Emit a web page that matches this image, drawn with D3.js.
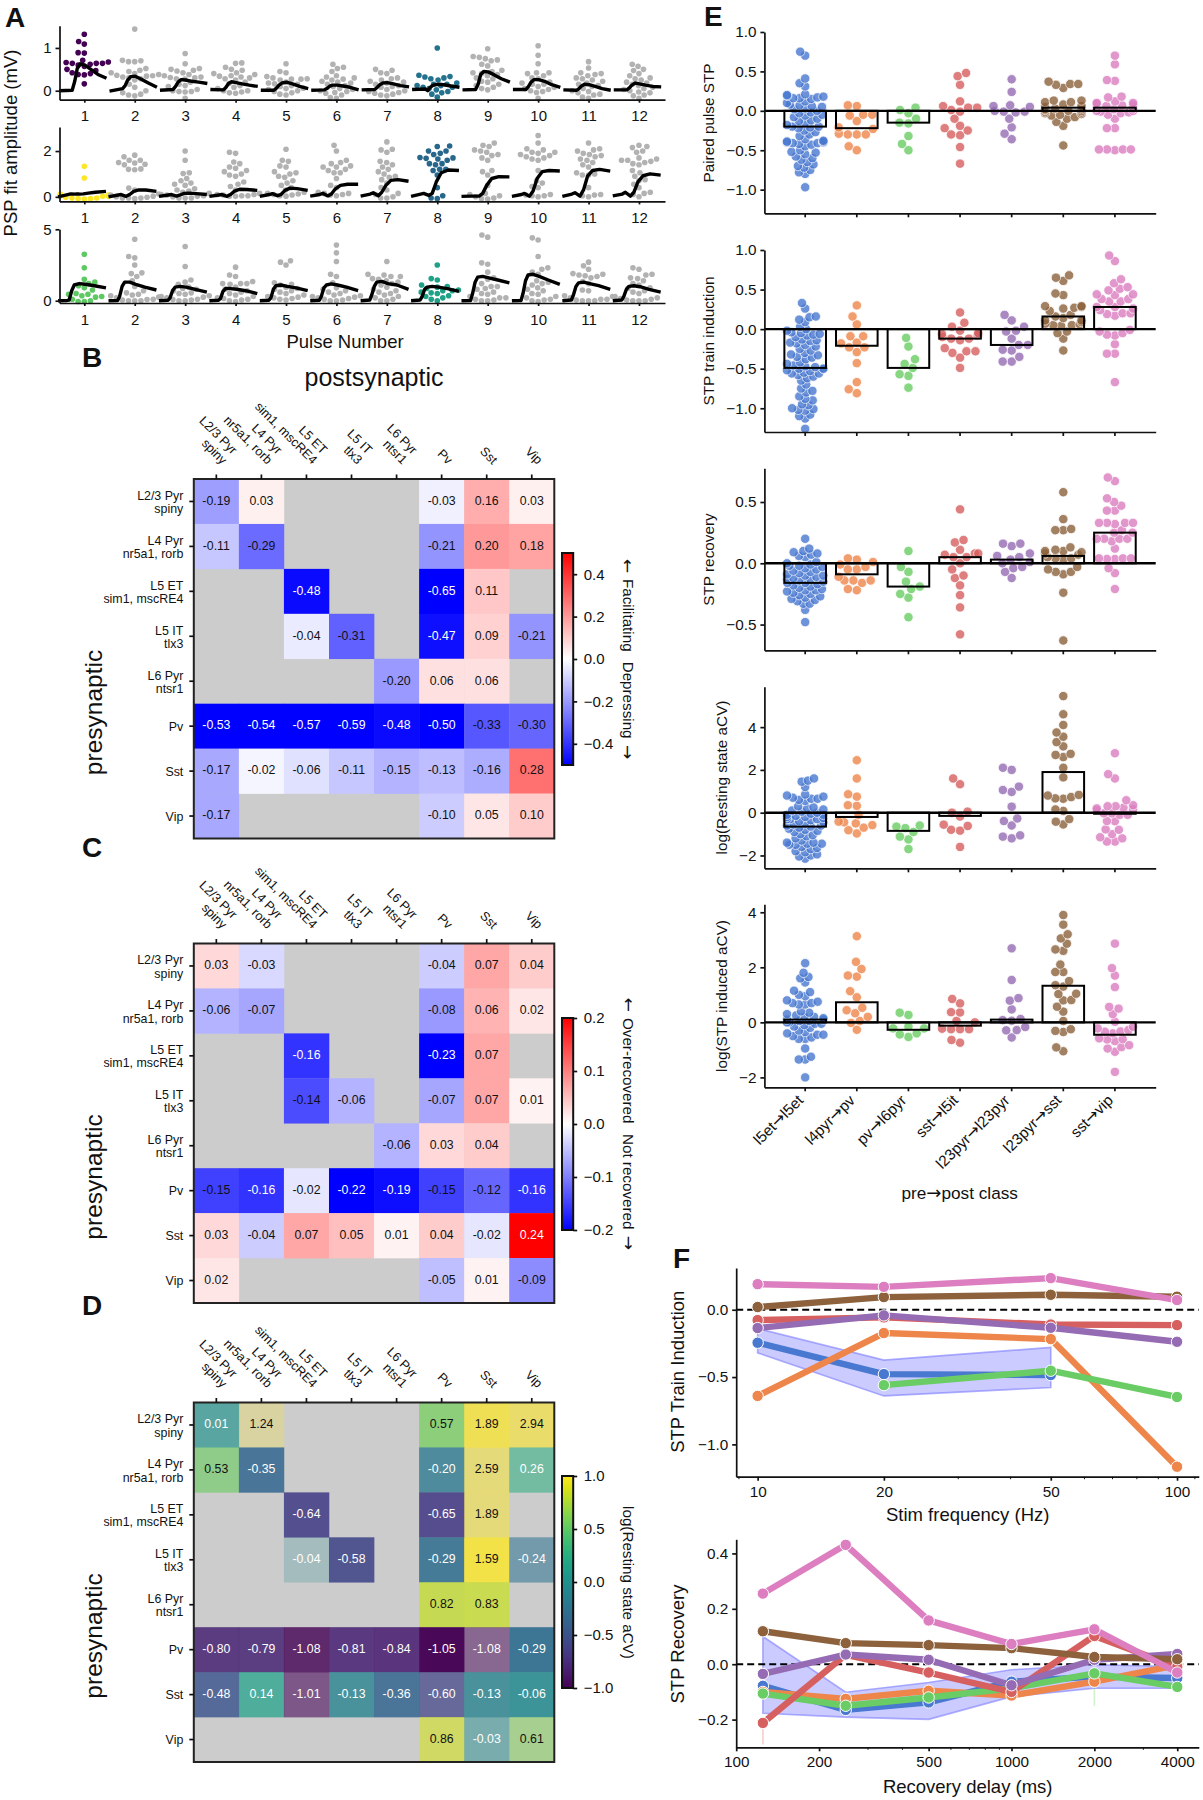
<!DOCTYPE html>
<html><head><meta charset="utf-8"><title>STP figure</title>
<script src="https://cdn.jsdelivr.net/npm/d3@7/dist/d3.min.js"></script>
<style>
html,body{margin:0;padding:0;background:#fff}
svg{display:block}
text{font-family:"Liberation Sans",Arial,sans-serif;fill:#111}
.axis text{font-size:15px;fill:#111}
.axis line,.axis path{stroke:#111;stroke-width:1.7px}
.arrow{font-family:"DejaVu Sans",sans-serif}
</style></head><body><svg id="fig" width="1203" height="1800"></svg>
<script>
// ---------- Panel A ----------
const pulses=[1,2,3,4,5,6,7,8,9,10,11,12];
const traceOffsetsRow1=[-.5,-.24,-.19,-.14,-.08,.01,.13,.27,.44];
const traceOffsetsRow2=[-.52,-.33,-.27,-.17,-.1,-.02,.08,.22,.43];
const traceOffsetsRow3=[-.52,-.34,-.3,-.25,-.2,-.1,.02,.2,.43];
const rowATicks=[[0,1],[0,2],[0,5]];
const rowAColors=[["#440154","#24728e"],["#fde725","#28678c"],["#5ec962","#1fa187"]];
const traceRow1=[[0,.01,.22,.52,.63,.6,.5,.38,.29],[-.01,.05,.12,.25,.33,.34,.27,.18,.08],[.01,.03,.1,.2,.26,.25,.22,.2,.17],[.03,.02,.08,.17,.21,.19,.16,.13,.1],[.01,.01,.06,.13,.18,.2,.16,.1,.05],[.01,.02,.05,.1,.13,.13,.11,.08,.02],[.02,.03,.08,.14,.18,.19,.16,.12,.09],[.03,.04,0,.08,.13,.15,.14,.11,.08],[.02,.03,.15,.38,.45,.44,.37,.28,.2],[.03,.03,.1,.2,.26,.26,.22,.14,.08],[.02,.01,.05,.11,.15,.14,.1,.05,.01],[.02,.02,.07,.13,.18,.16,.13,.1,.09]];
const traceRow2=[[0,.1,.13,.12,.12,.13,.16,.2,.24],[0,.08,.1,.02,.1,.24,.3,.3,.24],[.02,.08,.1,.03,.08,.15,.16,.14,.1],[.02,.08,.1,.02,.1,.25,.33,.32,.28],[.02,.1,.14,.05,.1,.28,.38,.36,.28],[.03,.1,.15,.04,.12,.35,.5,.55,.55],[.03,.12,.18,.05,.2,.5,.72,.75,.68],[.02,.12,.15,.06,.15,.65,1.05,1.17,1.15],[.02,.03,.03,.03,.15,.5,.8,.88,.87],[.02,.1,.15,.03,.25,.8,1.1,1.15,1.13],[.02,.12,.18,.03,.3,.9,1.15,1.2,1.12],[.04,.12,.2,.03,.2,.65,.92,1,.95]];
const traceRow3=[[0,.02,.05,.7,1.1,1.2,1.15,1.05,.9],[0,.02,.3,1,1.3,1.3,1.15,.95,.75],[0,.03,.2,.7,.95,1,.95,.8,.6],[0,.03,.15,.65,.85,.85,.8,.7,.5],[0,.03,.2,.8,1.05,1.1,1,.9,.7],[0,.03,.3,.9,1.1,1.18,1.1,.95,.7],[0,.05,.4,1,1.3,1.35,1.2,1.1,.8],[0,.05,.3,.8,.95,1,.95,.85,.65],[0,.02,.5,1.3,1.65,1.7,1.6,1.45,1.25],[0,.02,.5,1.4,1.8,1.85,1.7,1.45,1.15],[0,.05,.4,1,1.25,1.3,1.2,1.05,.8],[0,.05,.3,.8,1,1.05,.98,.8,.6]];
const dotsRow1=[[1.32,1.15,1.09,.89,.88,.71,.67,.66,.64,.64,.64,.62,.6,.57,.5,.47,.42,.4,.38,.37,.16],[1.44,.71,.7,.68,.68,.52,.48,.45,.42,.4,.38,.36,.35,.34,.32,.3,.28,.25,.15,.08,0,-.05,-.08,-.1,-.12],[.87,.63,.52,.5,.48,.46,.42,.38,.35,.32,.31,.3,.28,.27,.2,.15,.12,.1,.03,0,-.02,-.02,-.03,-.18],[.65,.64,.55,.5,.48,.42,.4,.38,.35,.34,.32,.3,.28,.25,.2,.17,.12,.08,.05,0,0,-.03,-.05,-.06],[.63,.45,.42,.33,.3,.28,.27,.27,.25,.2,.18,.16,.15,.12,.1,.06,.05,.03,0,-.02,-.05,-.08,-.1],[.62,.55,.52,.45,.35,.32,.3,.27,.25,.22,.2,.18,.15,.12,.1,.05,.03,0,-.02,-.04,-.06,-.1,-.16,-.18],[.5,.48,.42,.4,.3,.28,.25,.22,.2,.18,.15,.12,.1,.08,.03,0,-.02,-.04,-.06,-.08,-.1,-.12],[1,.36,.33,.32,.3,.28,.25,.18,.15,.15,.12,.12,.08,.08,.05,.02,-.02,-.05,-.08,-.15],[.98,.8,.78,.75,.72,.7,.62,.58,.48,.45,.42,.4,.38,.35,.3,.28,.22,.2,.15,.12,.08,.05,.02],[1.05,.83,.63,.42,.42,.4,.35,.3,.28,.2,.18,.15,.15,.1,.08,.05,.03,0,-.02,-.04,-.18],[.68,.53,.42,.4,.38,.35,.3,.28,.25,.22,.18,.15,.12,.1,.05,0,-.02,-.05,-.08,-.1,-.15,-.18],[.62,.57,.5,.47,.4,.35,.3,.28,.25,.2,.18,.15,.12,.08,.05,.03,0,-.03,-.05,-.1,-.12,-.18]];
const dotsRow2=[[1.33,.82,.12,.08,.05,.02,.02,-.02,-.05,-.05,-.08,-.08,-.1],[1.82,1.75,1.6,1.6,1.5,1.48,1.42,1.4,1.22,1.2,1.18,.38,.3,.12,.08,.03,0,-.02,-.05,-.05,-.05,-.08],[2,1.6,1.05,1.02,.8,.7,.6,.55,.5,.35,.3,.25,.2,.15,.1,.08,.05,.02,0,-.05,-.05,-.05],[1.95,1.9,1.52,1.45,1.3,1.25,1.15,1.1,1,.95,.9,.65,.55,.45,.3,.15,.1,.1,.08,.05,.05,.03,.02],[2.08,1.6,1.55,1.35,1.3,1.1,1.05,1,.9,.85,.7,.6,.5,.4,.3,.2,.15,.12,.1,.08,.05,.03],[2.25,2,1.6,1.5,1.45,1.35,1.3,1.3,1.2,1.15,1.05,1.05,.8,.5,.4,.2,.15,.15,.1,.08,.05],[2.4,2.08,2.05,1.95,1.55,1.5,1.4,1.3,1.2,1.1,1,.9,.85,.75,.6,.4,.3,.15,.1,0,-.05,-.05],[2.22,2.2,2,2,1.9,1.85,1.72,1.7,1.68,1.65,1.6,1.45,1.45,1.4,1.2,1.2,1.15,.95,.4,.05,-.05,-.08],[2.35,2.25,2.2,2.05,2,1.95,1.85,1.8,1.7,1.6,1.15,1.1,.95,.5,.15,.1,.05,0,-.05,-.08,-.1],[2.68,2.35,2.1,2.05,1.95,1.95,1.9,1.85,1.8,1.75,1.7,1.65,1.6,1.15,.7,.6,.45,.4,.1,.08,.05,.05,0],[2.35,2.1,2.05,2,1.9,1.85,1.8,1.75,1.65,1.6,1.5,1.4,1.3,1.05,1,.95,.95,.4,.1,.08,.05,0],[2.25,2.2,2.15,2,1.95,1.7,1.65,1.6,1.6,1.55,1.5,1.45,1.4,1.15,1.05,.9,.75,.7,.55,.4,.2,.15,.1,0]];
const dotsRow3=[[3.25,2.3,1.5,1.3,1.2,1.05,.9,.75,.5,.45,.45,.35,.3,.25,.1,0,-.05,-.05],[4.3,3.1,3,2.5,1.95,1.9,1.7,1.4,1,.7,.55,.45,.4,.35,.25,.2,.1,.08,.05,0,0,0],[3.8,2.4,1.45,1.3,1.15,.95,.85,.8,.7,.55,.5,.45,.35,.3,.25,.2,.1,.08,.05,0,0],[2.35,1.8,1.7,1.35,1.2,1.2,1.2,1.15,.95,.8,.7,.6,.5,.4,.3,.2,.15,.1,.05,0,-.05],[2.8,2.7,2.5,1.25,1.15,1.1,.95,.85,.8,.7,.6,.5,.4,.3,.25,.2,.15,.1,.05],[3.9,3.35,2.75,1.85,1.7,1.25,.9,.8,.7,.6,.5,.4,.35,.3,.25,.2,.15,.1,.05,0,0],[2.75,1.85,1.8,1.7,1.7,1.55,1.5,1.4,1.3,1.2,1.1,.95,.8,.7,.6,.5,.4,.3,.2,.1,0,0],[2.5,1.55,1.45,1.1,1,.95,.85,.75,.7,.7,.6,.55,.5,.35,.3,.2,.1,0],[4.6,4.45,2.65,2.55,2,1.6,1.5,1.2,1,1,.85,.8,.6,.5,.45,.3,.2,.2,.1,.05,0,0],[4.4,4.25,3.1,2.3,2.2,2,1.85,1.4,1.3,1.2,1.1,.9,.8,.7,.5,.45,.3,.2,.1,.05,0,-.05],[2.7,2.45,2.2,1.9,1.85,1.8,1.75,1.7,1.6,1.35,1.2,.75,.7,.35,.3,.2,.1,.1,.05,0,0,0],[2.3,2.2,1.85,1.8,1.6,1.55,1.4,1.2,1.1,.9,.85,.7,.6,.5,.3,.2,.15,.1,.05,0,0,0]];

// ---------- Panels B, C, D ----------
const _=null;
const colLabels=[["L2/3 Pyr","spiny"],["L4 Pyr","nr5a1, rorb"],["L5 ET","sim1, mscRE4"],["L5 IT","tlx3"],["L6 Pyr","ntsr1"],["Pv"],["Sst"],["Vip"]];
const matB=[[-.19,.03,_,_,_,-.03,.16,.03],[-.11,-.29,_,_,_,-.21,.20,.18],[_,_,-.48,_,_,-.65,.11,_],[_,_,-.04,-.31,_,-.47,.09,-.21],[_,_,_,_,-.20,.06,.06,_],[-.53,-.54,-.57,-.59,-.48,-.50,-.33,-.30],[-.17,-.02,-.06,-.11,-.15,-.13,-.16,.28],[-.17,_,_,_,_,-.10,.05,.10]];
const matC=[[.03,-.03,_,_,_,-.04,.07,.04],[-.06,-.07,_,_,_,-.08,.06,.02],[_,_,-.16,_,_,-.23,.07,_],[_,_,-.14,-.06,_,-.07,.07,.01],[_,_,_,_,-.06,.03,.04,_],[-.15,-.16,-.02,-.22,-.19,-.15,-.12,-.16],[.03,-.04,.07,.05,.01,.04,-.02,.24],[.02,_,_,_,_,-.05,.01,-.09]];
const matD=[[.01,1.24,_,_,_,.57,1.89,2.94],[.53,-.35,_,_,_,-.20,2.59,.26],[_,_,-.64,_,_,-.65,1.89,_],[_,_,-.04,-.58,_,-.29,1.59,-.24],[_,_,_,_,_,.82,.83,_],[-.80,-.79,-1.08,-.81,-.84,-1.05,-1.08,-.29],[-.48,.14,-1.01,-.13,-.36,-.60,-.13,-.06],[_,_,_,_,_,.86,-.03,.61]];
const alphaD=[[.67,.26,_,_,_,.7,.71,.59],[.6,.85,_,_,_,.78,.5,.55],[_,_,.88,_,_,.88,.5,_],[_,_,.23,.88,_,.86,.8,.56],[_,_,_,_,_,.72,.72,_],[.86,.86,.8,.87,.87,.97,.5,.9],[.82,.72,.58,.79,.85,.73,.79,.85],[_,_,_,_,_,.59,.49,.48]];
const ticksB=[.4,.2,0,-.2,-.4], ticksC=[.2,.1,0,-.1,-.2], ticksD=[1,.5,0,-.5,-1];

// ---------- Panel E ----------
const classNames=["l5et→l5et","l4pyr→pv","pv→l6pyr","sst→l5it","l23pyr→l23pyr","l23pyr→sst","sst→vip"];
const classColors=["#4878d0","#ee854a","#6acc64","#d65f5f","#956cb4","#8c613c","#dc7ec0"];
const barsPaired=[-.2,-.22,-.15,0,0,.04,.04];
const barsTrain=[-.49,-.21,-.49,-.12,-.2,.16,.28];
const barsRecovery=[-.16,-.09,-.19,.05,.03,.06,.25];
const barsResting=[-.65,-.2,-.85,-.15,0,1.9,-.05];
const barsInduced=[.1,.73,-.27,-.12,.1,1.33,-.45];
const pairedPoints=[
[.75,.70,.41,.35,.31,.21,.20,.19,.18,.17,.16,.16,.15,.12,.10,.08,.07,.06,.05,.03,.02,0,-.02,-.03,-.05,-.06,-.08,-.10,-.12,-.13,-.15,-.18,-.2,-.2,-.21,-.22,-.25,-.27,-.3,-.32,-.36,-.38,-.39,-.39,-.40,-.40,-.40,-.41,-.41,-.42,-.43,-.45,-.5,-.52,-.53,-.55,-.58,-.6,-.62,-.65,-.68,-.7,-.72,-.75,-.78,-.8,-.97],
[.07,.06,-.06,-.05,-.05,-.13,-.21,-.23,-.3,-.29,-.3,-.3,-.45,-.5],
[.04,.01,-.03,-.1,-.15,-.16,-.32,-.42,-.5],
[.48,.44,.33,.12,.04,.01,-.01,.06,.04,-.1,-.19,-.25,-.22,-.3,-.31,-.46,-.67],
[.40,.24,.07,.06,.05,0,-.01,-.01,-.02,-.1,-.21,-.29,-.36],
[.37,.34,.34,.33,.29,.13,.11,.13,.11,.08,.06,.05,.04,.03,.02,.02,.01,0,0,-.01,-.02,-.03,-.04,-.05,-.06,-.08,-.1,-.14,-.19,-.44],
[.70,.59,.39,.38,.17,.18,.12,.1,.1,.09,.08,.08,.07,.06,.05,.04,.03,.02,0,0,-.01,-.02,-.03,-.05,-.1,-.22,-.22,-.49,-.49,-.49,-.49,-.5]];
const trainPoints=[
[.33,.26,.16,.15,.12,.09,.03,0,-.02,-.04,-.05,-.06,-.07,-.08,-.1,-.13,-.14,-.15,-.17,-.18,-.2,-.22,-.25,-.27,-.3,-.32,-.33,-.35,-.36,-.38,-.42,-.44,-.46,-.47,-.48,-.5,-.5,-.5,-.52,-.53,-.55,-.56,-.56,-.58,-.6,-.62,-.65,-.7,-.75,-.78,-.8,-.85,-.88,-.9,-.95,-.96,-1,-1.01,-1.02,-1.03,-1.08,-1.1,-1.13,-1.26],
[.30,.16,.06,-.09,-.09,-.17,-.18,-.23,-.23,-.29,-.43,-.67,-.76,-.81],
[-.11,-.22,-.38,-.44,-.49,-.59,-.57,-.74],
[.21,.08,.03,-.02,-.05,-.06,-.07,-.08,-.1,-.12,-.12,-.14,-.24,-.28,-.28,-.3,-.36,-.49],
[.18,.11,.03,-.02,-.03,-.12,-.2,-.2,-.27,-.26,-.35,-.41,-.41],
[.68,.65,.61,.45,.43,.28,.29,.26,.27,.29,.23,.18,.16,.14,.11,.11,.09,.07,.05,.06,.05,.04,-.03,-.05,-.12,-.27],
[.93,.86,.63,.58,.51,.53,.49,.43,.44,.44,.38,.38,.35,.35,.28,.28,.26,.2,.2,.19,.24,.17,-.01,-.05,-.07,-.03,-.08,-.19,-.31,-.31,-.67]];
const recoveryPoints=[
[.20,.12,.10,.09,.08,.07,.06,.05,.01,0,-.01,-.02,-.02,-.03,-.04,-.05,-.06,-.07,-.08,-.09,-.10,-.10,-.11,-.12,-.13,-.13,-.14,-.15,-.16,-.16,-.17,-.18,-.19,-.2,-.21,-.22,-.22,-.23,-.24,-.25,-.26,-.27,-.28,-.29,-.3,-.31,-.33,-.33,-.38,-.48],
[.04,.03,.01,-.01,-.03,-.05,-.05,-.11,-.16,-.14,-.14,-.14,-.22,-.21],
[.10,-.03,-.07,-.15,-.19,-.21,-.25,-.28,-.44],
[.44,.19,.17,.11,.08,.07,.08,.05,.05,0,-.05,-.1,-.12,-.18,-.26,-.36,-.58],
[.14,.16,.16,.08,.06,.05,.03,0,.01,-.03,-.04,-.07,-.12],
[.58,.36,.27,.28,.27,.13,.11,.1,.1,.09,.08,.07,.05,.04,.04,.03,-.03,-.05,-.07,-.09,-.07,-.24,-.63],
[.70,.67,.53,.5,.47,.43,.43,.33,.33,.33,.33,.32,.27,.25,.25,.2,.2,.2,.18,.2,.12,.04,.04,.04,.035,.035,-.04,-.08,-.21]];
const restingPoints=[
[1.6,1.5,1.45,1.2,.85,.8,.75,.7,.65,.65,.6,.55,.3,.25,.2,.15,.1,.05,0,-.05,-.1,-.1,-.15,-.2,-.2,-.25,-.3,-.3,-.3,-.35,-.4,-.45,-.5,-.55,-.6,-.6,-.65,-.7,-.75,-.8,-.85,-.9,-1,-1.05,-1.1,-1.2,-1.3,-1.4,-1.4,-1.45,-1.45,-1.5,-1.5,-1.6,-1.65,-1.7,-1.8,-1.85,-1.95,-2,-2.05,-2.15],
[2.45,1.6,.86,.75,.35,.32,-.1,-.45,-.5,-.42,-.7,-.82,-.58,-.97],
[-.6,-.72,-.65,-.9,-1.12,-1.25,-1.7],
[1.6,1.33,.05,0,-.18,-.56,-.62,-.84,-.8,-1.6],
[2.1,2,1.06,1.22,.97,.28,-.27,-.39,-.6,-1.06,-1.12,-1.2],
[5.45,4.6,4.1,3.75,3.55,3.3,3.1,2.7,2.75,2.6,2.1,1.65,.83,.67,.65,.73,.8,.08,.15,-.3,-.42,-.55],
[2.78,1.8,1.6,.58,.35,.3,.3,.23,.2,.16,.12,-.03,-.03,-.1,-.1,-.4,-.39,-.78,-.8,-1,-1.2,-1.15,-1.35,-1.35]];
const inducedPoints=[
[2.15,1.8,1.65,1.6,1.45,1.15,1.1,1,.95,.8,.75,.7,.7,.65,.65,.4,.35,.3,.25,.2,.2,.15,.1,.1,.05,.05,0,0,-.05,-.05,-.1,-.15,-.2,-.3,-.35,-.4,-.45,-.45,-.5,-.55,-.6,-.6,-.95,-1.25,-1.35,-1.35,-2],
[3.13,2.2,1.94,1.66,1.7,1.13,.91,.53,.44,.2,.33,.05,-.02,-.27],
[.35,.27,-.15,-.22,-.22,-.4,-.44,-.53],
[.85,.69,.37,.36,.05,0,-.25,-.25,-.25,-.23,-.64,-.74],
[2.69,1.54,.88,.79,.47,.08,.06,.12,-.17,-.29,-.28,-.55],
[3.9,3.55,3.2,3.05,2.86,2.6,2.65,2.1,1.83,1.83,1.5,1.3,1.35,1.04,1.03,.8,.81,.57,.39,.05,-.31,-.35,-.25,-.91,-1.05],
[2.86,1.97,1.7,1.28,.56,.5,.3,.02,-.16,-.22,-.28,-.34,-.4,-.33,-.62,-.58,-.61,-.68,-.83,-.9,-.95,-1.07,-1.8]];

// ---------- Panel F ----------
const freqTicks=[10,20,50,100], freqMinor=[9,30,40,60,70,80,90,110];
const delayTicks=[100,200,500,1000,2000,4000], delayMinor=[300,400,600,700,800,900,3000];
const freqs=[10,20,50,100];
const delays=[125,250,500,1000,2000,4000];
const fBlue=[-.245,-.478,-.485,_], fOrange=[-.64,-.173,-.218,-1.166], fGreen=[_,-.56,-.453,-.648], fRed=[-.077,-.057,-.11,-.114], fPurple=[-.136,-.042,-.134,-.238], fBrown=[.02,.094,.111,.097], fPink=[.19,.17,.235,.072];
const fBandUpper=[-.14,-.374,-.28,_], fBandLower=[-.32,-.64,-.577,_];
const rBlue=[-.078,-.165,-.138,-.063,-.045,-.05], rOrange=[-.1,-.125,-.096,-.113,-.063,-.003], rGreen=[-.106,-.15,-.12,-.087,-.033,-.082], rRed=[-.212,.034,-.03,-.1,.102,-.01], rPurple=[-.035,.035,.016,-.076,.016,.037], rBrown=[.119,.076,.069,.058,.026,.018], rPink=[.255,.431,.158,.073,.126,-.03];
const rBandUpper=[.1,-.101,-.066,-.02,-.002,-.008], rBandLower=[-.177,-.191,-.199,-.117,-.087,-.087];
const rRedFaint=[125,-.225,-.29], rGreenFaint=[2000,-.045,-.15];

// ---------- Drawing ----------
const svg=d3.select("#fig");
const FONT={tick:15,cell:12.3,row:12.4,col:12.7,label:18.5,elabel:15.3,side:15.2,pres:24.5,letter:28};
const classSpacing=[6.4,9,9,9,9,8,8];
function txt(parent,x,y,s,size,opt={}){
  const t=parent.append("text").attr("x",x).attr("y",y).text(s).style("font-size",size+"px")
    .attr("text-anchor",opt.anchor||"middle").style("font-weight",opt.weight||"normal");
  if(opt.rot!=null)t.attr("transform",`rotate(${opt.rot},${x},${y})`);
  if(opt.dy)t.attr("dy",opt.dy);
  return t;
}
function arrowSpans(sel){
  sel.each(function(){
    const t=d3.select(this), parts=t.text().split("→");
    if(parts.length<2)return;
    t.text(null);
    t.append("tspan").text(parts[0]);
    t.append("tspan").attr("class","arrow").style("font-size","1.05em").text("→");
    t.append("tspan").text(parts[1]);
  });
}
function swarm(vals,yFn,d,limit){
  const pts=vals.map(v=>({v,y:yFn(v),x:0})).sort((a,b)=>b.y-a.y);
  const placed=[];
  pts.forEach(p=>{
    const near=placed.filter(q=>Math.abs(q.y-p.y)<d);
    const cands=[0];
    near.forEach(q=>{const o=Math.sqrt(d*d-(q.y-p.y)*(q.y-p.y));cands.push(q.x-o,q.x+o);});
    cands.sort((a,b)=>Math.abs(a)-Math.abs(b));
    for(const c of cands){
      if(near.every(q=>(q.x-c)*(q.x-c)+(q.y-p.y)*(q.y-p.y)>=d*d-1e-6)){p.x=c;break;}
    }
    p.x=Math.max(-limit,Math.min(limit,p.x));
    placed.push(p);
  });
  return pts;
}

// Panel letters
[["A",5,27],["B",82,367],["C",82,857],["D",82,1315],["E",704,26],["F",673,1268]].forEach(([s,x,y])=>txt(svg,x,y,s,FONT.letter,{anchor:"start",weight:"bold"}));

// --- A ---
const xA=d3.scaleLinear().domain([.508,12.516]).range([59.5,665]);
const rowsA=[
 {y:d3.scaleLinear().domain([-.21,1.52]).range([99.7,25.7]),dots:dotsRow1,tr:traceRow1,off:traceOffsetsRow1,cols:rowAColors[0],ticks:rowATicks[0]},
 {y:d3.scaleLinear().domain([-.2,3.05]).range([201.4,127]),dots:dotsRow2,tr:traceRow2,off:traceOffsetsRow2,cols:rowAColors[1],ticks:rowATicks[1]},
 {y:d3.scaleLinear().domain([-.16,5]).range([303,229.3]),dots:dotsRow3,tr:traceRow3,off:traceOffsetsRow3,cols:rowAColors[2],ticks:rowATicks[2]}];
rowsA.forEach(r=>{
  const g=svg.append("g");
  pulses.forEach((p,i)=>{
    const col=i===0?r.cols[0]:i===7?r.cols[1]:"#b2b2b2";
    g.selectAll(null).data(swarm(r.dots[i],r.y,6.2,24)).join("circle")
      .attr("cx",d=>xA(p)+d.x).attr("cy",d=>r.y(d.v)).attr("r",2.8).attr("fill",col);
  });
  pulses.forEach((p,i)=>{
    const line=d3.line().x((v,k)=>xA(p+r.off[k])).y(v=>r.y(v));
    g.append("path").attr("d",line(r.tr[i])).attr("fill","none").attr("stroke","#000").attr("stroke-width",3.4).attr("stroke-linejoin","round");
  });
  g.append("g").attr("class","axis").attr("transform",`translate(59.5,0)`)
    .call(d3.axisLeft(r.y).tickValues(r.ticks).tickSizeInner(4).tickSizeOuter(0).tickPadding(4).tickFormat(d3.format("d")));
  g.append("g").attr("class","axis").attr("transform",`translate(0,${r.y.range()[0]})`)
    .call(d3.axisBottom(xA).tickValues(pulses).tickSizeInner(3).tickSizeOuter(0).tickPadding(8).tickFormat(d3.format("d")));
});
txt(svg,11,143,"PSP fit amplitude (mV)",FONT.label,{rot:-90,dy:".35em"});
txt(svg,345,342,"Pulse Number",FONT.label,{dy:".35em"});

// --- Heatmaps ---
const bwrScale=d3.scaleLinear().domain([-1,0,1]).range(["#0000ff","#ffffff","#ff0000"]).clamp(true);
function heatmap(top,mat,colorFn,textFn,alpha){
  const L=193.8,R=554.3,H=359.5;
  const x=d3.scaleBand().domain(d3.range(8)).range([L,R]);
  const y=d3.scaleBand().domain(d3.range(8)).range([top,top+H]);
  const g=svg.append("g");
  g.append("rect").attr("x",L).attr("y",top).attr("width",R-L).attr("height",H).attr("fill","#cccccc");
  mat.forEach((row,i)=>row.forEach((v,j)=>{
    if(v===null)return;
    g.append("rect").attr("x",x(j)).attr("y",y(i)).attr("width",x.bandwidth()+.3).attr("height",y.bandwidth()+.3)
      .attr("fill",colorFn(v)).attr("fill-opacity",alpha?alpha[i][j]:1);
    txt(g,x(j)+x.bandwidth()/2,y(i)+y.bandwidth()/2-1,v.toFixed(2),FONT.cell,{dy:".35em"}).style("fill",textFn(v));
  }));
  g.append("rect").attr("x",L).attr("y",top).attr("width",R-L).attr("height",H).attr("fill","none").attr("stroke","#222").attr("stroke-width",2);
  const ay=g.append("g").attr("class","axis").attr("transform",`translate(${L},0)`)
    .call(d3.axisLeft(y).tickSize(4.5).tickFormat(""));
  ay.select("path").remove();
  const ax=g.append("g").attr("class","axis").attr("transform",`translate(0,${top})`)
    .call(d3.axisTop(x).tickSize(4.5).tickFormat(""));
  ax.select("path").remove();
  colLabels.forEach((lab,i)=>{
    const c=y(i)+y.bandwidth()/2;
    if(lab.length===2){
      txt(g,183.3,c-6,lab[0],FONT.row,{anchor:"end",dy:".35em"});
      txt(g,183.3,c+7.3,lab[1],FONT.row,{anchor:"end",dy:".35em"});
    } else txt(g,183.3,c+.5,lab[0],FONT.row,{anchor:"end",dy:".35em"});
    const cx=x(i)+x.bandwidth()/2;
    const t=g.append("g").attr("transform",`translate(${cx+5.5},${top-14}) rotate(45)`);
    if(lab.length===2){
      txt(t,0,-14.2,lab[0],FONT.col,{anchor:"end"});
      txt(t,0,0,lab[1],FONT.col,{anchor:"end"});
    } else txt(t,0,0,lab[0],FONT.col,{anchor:"end"});
  });
  txt(g,93,top+233.5,"presynaptic",FONT.pres,{rot:-90,dy:".35em"});
}
function colorbar(y0,y1,domain,ticks,fmt,colorFn){
  const s=d3.scaleLinear().domain(domain).range([y1,y0]);
  const g=svg.append("g");
  d3.range(y0,y1,1).forEach(py=>{
    g.append("rect").attr("x",562).attr("y",py).attr("width",11.2).attr("height",1.3).attr("fill",colorFn(s.invert(py+.5)));
  });
  g.append("rect").attr("x",562).attr("y",y0).attr("width",11.2).attr("height",y1-y0).attr("fill","none").attr("stroke","#111").attr("stroke-width",2);
  const a=g.append("g").attr("class","axis").attr("transform","translate(573.2,0)")
    .call(d3.axisRight(s).tickValues(ticks).tickSize(4).tickPadding(6.5).tickFormat(d3.format(fmt)));
  a.select("path").remove();
}
const cmapB=v=>bwrScale(v/.5), cmapC=v=>bwrScale(v/.2), cmapD=v=>d3.interpolateViridis(Math.max(0,Math.min(1,(v+1)/2)));
heatmap(479,matB,cmapB,v=>v<-.4?"#fff":"#111");
heatmap(943.5,matC,cmapC,v=>Math.abs(v)>=.16?"#fff":"#111");
heatmap(1402.5,matD,cmapD,v=>v<.4?"#fff":"#111",alphaD);
colorbar(553,765,[-.5,.5],ticksB,".1f",cmapB);
colorbar(1018,1230,[-.2,.2],ticksC,".1f",cmapC);
colorbar(1476,1688,[-1,1],ticksD,".1f",cmapD);
txt(svg,374,377,"postsynaptic",25,{dy:".35em"});
function sideRun(x,parts){
  parts.forEach(([s,y,anchor])=>{
    const t=txt(svg,x,y,s,anchor==="middle"?17:FONT.side,{rot:90,dy:".35em",anchor});
    if(anchor==="middle")t.attr("class","arrow");
  });
}
sideRun(628,[["←",566,"middle"],["Facilitating",579,"start"],["Depressing",661.7,"start"],["→",752,"middle"]]);
sideRun(628.6,[["←",1005,"middle"],["Over-recovered",1018,"start"],["Not recovered",1134,"start"],["→",1243,"middle"]]);
txt(svg,628.6,1582.5,"log(Resting state aCV)",FONT.side,{rot:90,dy:".35em"});

// --- E ---
const xE=d3.scaleBand().domain(classNames).range([764.4,1155.7]).paddingInner(0).paddingOuter(.29);
const panelsE=[
 {dom:[-1.3,1],rng:[213.3,32],ticks:[1,.5,0,-.5,-1],fmt:".1f",pts:pairedPoints,bars:barsPaired,label:"Paired pulse STP",lx:708.4,ly:123},
 {dom:[-1.3,1],rng:[432,250],ticks:[1,.5,0,-.5,-1],fmt:".1f",pts:trainPoints,bars:barsTrain,label:"STP train induction",lx:708.4,ly:341},
 {dom:[-.71,.775],rng:[650.3,468.3],ticks:[.5,0,-.5],fmt:".1f",pts:recoveryPoints,bars:barsRecovery,label:"STP recovery",lx:708.4,ly:559.5},
 {dom:[-2.6,5.89],rng:[868.3,686.7],ticks:[4,2,0,-2],fmt:"d",pts:restingPoints,bars:barsResting,label:"log(Resting state aCV)",lx:721.7,ly:777.5},
 {dom:[-2.36,4.29],rng:[1087.3,904.3],ticks:[4,2,0,-2],fmt:"d",pts:inducedPoints,bars:barsInduced,label:"log(STP induced aCV)",lx:721.7,ly:996}];
panelsE.forEach((p,pi)=>{
  const y=d3.scaleLinear().domain(p.dom).range(p.rng);
  const g=svg.append("g");
  classNames.forEach((c,i)=>{
    const cx=xE(c)+xE.bandwidth()/2;
    g.selectAll(null).data(swarm(p.pts[i],y,classSpacing[i],18.2)).join("circle")
      .attr("cx",d=>cx+d.x).attr("cy",d=>y(d.v)).attr("r",4.7)
      .attr("fill",classColors[i]).attr("stroke","#fff").attr("stroke-width",.8).attr("opacity",.8);
    const v=p.bars[i];
    g.append("rect").attr("x",cx-20.8).attr("width",41.6)
      .attr("y",Math.min(y(0),y(v))).attr("height",Math.abs(y(v)-y(0)))
      .attr("fill","none").attr("stroke","#000").attr("stroke-width",2);
  });
  g.append("line").attr("x1",764.4).attr("x2",1155.7).attr("y1",y(0)).attr("y2",y(0)).attr("stroke","#000").attr("stroke-width",2.4);
  g.append("g").attr("class","axis").attr("transform","translate(764.4,0)")
    .call(d3.axisLeft(y).tickValues(p.ticks).tickSizeInner(4).tickSizeOuter(0).tickPadding(4).tickFormat(d3.format(p.fmt)))
    .selectAll("text").style("font-size",FONT.elabel+"px");
  const ax=g.append("g").attr("class","axis").attr("transform",`translate(0,${p.rng[0]})`)
    .call(d3.axisBottom(xE).tickSizeInner(4).tickSizeOuter(0).tickPadding(6));
  if(pi<4)ax.selectAll("text").remove();
  else {
    const labels=ax.selectAll("text").style("font-size",FONT.elabel+"px").attr("text-anchor","end")
      .attr("dx","0").attr("dy","0").attr("transform","translate(-1,14) rotate(-45)").attr("y",0).attr("x",0);
    arrowSpans(labels);
  }
  txt(g,p.lx,p.ly,p.label,FONT.elabel,{rot:-90,dy:".35em"});
});
arrowSpans(txt(svg,959.7,1193,"pre→post class",17.2,{dy:".35em"}));

// --- F ---
function panelF(cfg){
  const g=svg.append("g");
  const {x,y}=cfg;
  const area=d3.area().defined((d,i)=>cfg.upper[i]!==null).x((d,i)=>x(cfg.xs[i])).y0((d,i)=>y(cfg.lower[i])).y1((d,i)=>y(cfg.upper[i]));
  g.append("path").attr("d",area(cfg.xs)).attr("fill","#6e6eff").attr("fill-opacity",.36).attr("stroke","#7a7aff").attr("stroke-opacity",.6).attr("stroke-width",1.6);
  (cfg.faint||[]).forEach(([xv,a,b,c])=>g.append("line").attr("x1",x(xv)).attr("x2",x(xv)).attr("y1",y(a)).attr("y2",y(b)).attr("stroke",c).attr("stroke-opacity",.3).attr("stroke-width",1.6));
  g.append("line").attr("x1",736.2).attr("x2",1198.8).attr("y1",y(0)).attr("y2",y(0)).attr("stroke","#000").attr("stroke-width",2).attr("stroke-dasharray","7,4");
  cfg.series.forEach((vals,k)=>{
    const col=classColors[k];
    const pts=vals.map((v,i)=>[cfg.xs[i],v]).filter(d=>d[1]!==null);
    g.append("path").attr("d",d3.line().x(d=>x(d[0])).y(d=>y(d[1]))(pts)).attr("fill","none").attr("stroke",col).attr("stroke-width",6.4).attr("stroke-linejoin","round");
    g.selectAll(null).data(pts).join("circle").attr("cx",d=>x(d[0])).attr("cy",d=>y(d[1])).attr("r",5.7).attr("fill",col).attr("stroke","#fff").attr("stroke-width",1);
  });
  g.append("g").attr("class","axis").attr("transform","translate(736.2,0)")
    .call(d3.axisLeft(y).tickValues(cfg.yticks).tickSizeInner(4).tickSizeOuter(0).tickPadding(4).tickFormat(d3.format(".1f")))
    .selectAll("text").style("font-size",FONT.elabel+"px");
  const bottom=y.range()[0];
  g.append("g").attr("class","axis").attr("transform",`translate(0,${bottom})`)
    .call(d3.axisBottom(x).tickValues(cfg.majors).tickSizeInner(4).tickSizeOuter(0).tickPadding(5).tickFormat(d3.format("d")))
    .selectAll("text").style("font-size",FONT.elabel+"px");
  const mn=g.append("g").attr("class","axis").attr("transform",`translate(0,${bottom})`)
    .call(d3.axisBottom(x).tickValues(cfg.minors).tickSizeInner(2.5).tickSizeOuter(0).tickFormat(""));
  mn.select("path").remove();
  mn.selectAll("line").style("stroke-width","1px");
  txt(g,678,cfg.ly,cfg.ylabel,FONT.label,{rot:-90,dy:".35em"});
  txt(g,967.7,cfg.xly,cfg.xlabel,FONT.label,{dy:".35em"});
}
panelF({x:d3.scaleLog().domain([8.89,112.7]).range([736.2,1198.8]),y:d3.scaleLinear().domain([-1.24,.31]).range([1476.7,1268]),
  xs:freqs,series:[fBlue,fOrange,fGreen,fRed,fPurple,fBrown,fPink],upper:fBandUpper,lower:fBandLower,yticks:[0,-.5,-1],majors:freqTicks,minors:freqMinor,
  ylabel:"STP Train Induction",ly:1371.7,xlabel:"Stim frequency (Hz)",xly:1515});
panelF({x:d3.scaleLog().domain([100,4790]).range([736.2,1198.8]),y:d3.scaleLinear().domain([-.3,.451]).range([1747.3,1539.3]),
  xs:delays,series:[rBlue,rOrange,rGreen,rRed,rPurple,rBrown,rPink],upper:rBandUpper,lower:rBandLower,yticks:[.4,.2,0,-.2],majors:delayTicks,minors:delayMinor,
  faint:[[...rRedFaint,classColors[3]],[...rGreenFaint,classColors[2]]],
  ylabel:"STP Recovery",ly:1644,xlabel:"Recovery delay (ms)",xly:1787});
</script></body></html>
